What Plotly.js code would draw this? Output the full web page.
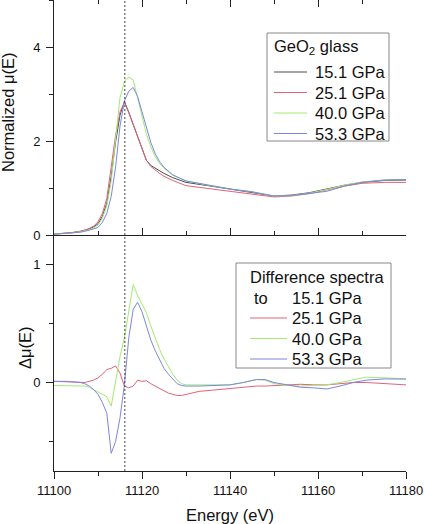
<!DOCTYPE html>
<html>
<head>
<meta charset="utf-8">
<script src="https://cdn.plot.ly/plotly-3.0.1.min.js"></script>
<style>html,body{margin:0;padding:0;background:#fff;}#chart{width:425px;height:524px;}</style>
</head>
<body>
<div id="chart"></div>
<script>
// ---- data: top panel (normalized mu(E)) ----
const energyTop = [11100,11102,11104,11106,11107,11108,11109,11110,11111,11112,11113,11114,11115,11116,11117,11118,11119,11120,11121,11122,11123,11124,11125,11127,11130,11135,11140,11145,11150,11154,11158,11162,11166,11170,11175,11180];
const mu151 = [0.02,0.03,0.05,0.08,0.10,0.13,0.17,0.24,0.40,0.68,1.25,1.98,2.55,2.84,2.61,2.36,2.10,1.85,1.59,1.48,1.42,1.37,1.31,1.22,1.12,1.05,0.98,0.90,0.83,0.85,0.90,0.98,1.06,1.12,1.16,1.17];
const mu251 = [0.02,0.03,0.05,0.08,0.10,0.14,0.19,0.28,0.46,0.78,1.40,2.12,2.62,2.82,2.60,2.35,2.10,1.85,1.59,1.46,1.38,1.31,1.25,1.16,1.05,0.99,0.94,0.87,0.81,0.83,0.88,0.96,1.04,1.10,1.12,1.12];
const mu400 = [0.02,0.03,0.04,0.07,0.09,0.11,0.15,0.21,0.36,0.62,1.15,2.02,2.92,3.27,3.36,3.30,2.90,2.48,2.15,1.88,1.67,1.52,1.42,1.27,1.15,1.06,0.98,0.92,0.83,0.84,0.89,0.97,1.06,1.13,1.17,1.18];
const mu533 = [0.02,0.03,0.04,0.06,0.08,0.10,0.13,0.16,0.27,0.46,0.82,1.45,2.32,2.85,3.06,3.14,2.95,2.62,2.27,1.97,1.73,1.56,1.44,1.28,1.15,1.06,0.98,0.92,0.83,0.84,0.88,0.93,1.04,1.12,1.17,1.18];

// ---- data: bottom panel (difference spectra to 15.1 GPa) ----
const energyDiff = [11100,11103,11106,11107,11108,11109,11110,11111,11112,11113,11114,11115,11116,11117,11118,11119,11120,11121,11122,11123,11124,11125,11126,11127,11128,11129,11130,11133,11136,11140,11143,11146,11148,11150,11153,11156,11159,11162,11165,11168,11171,11175,11180];
const d251 = [0.01,0.005,0.0,0.0,0.01,0.02,0.04,0.07,0.11,0.12,0.14,0.08,-0.03,-0.045,-0.03,0.02,0.01,0.015,-0.01,-0.03,-0.05,-0.07,-0.09,-0.10,-0.11,-0.11,-0.10,-0.075,-0.065,-0.05,-0.04,-0.03,-0.03,-0.025,-0.02,-0.015,-0.02,-0.02,-0.01,0.0,0.0,-0.01,-0.02];
const d400 = [-0.025,-0.025,-0.025,-0.03,-0.04,-0.06,-0.08,-0.10,-0.12,-0.20,0.01,0.22,0.38,0.60,0.83,0.74,0.66,0.59,0.48,0.38,0.28,0.20,0.13,0.07,0.02,-0.01,-0.02,-0.02,-0.02,-0.02,0.0,0.025,0.02,-0.01,-0.025,-0.03,-0.025,-0.02,0.0,0.025,0.045,0.04,0.03];
const d533 = [0.01,0.01,0.0,-0.01,-0.03,-0.06,-0.10,-0.17,-0.26,-0.60,-0.50,-0.30,-0.02,0.38,0.62,0.68,0.60,0.47,0.36,0.27,0.19,0.12,0.07,0.03,-0.01,-0.025,-0.03,-0.03,-0.025,-0.02,0.0,0.025,0.025,0.0,-0.02,-0.04,-0.045,-0.055,-0.03,0.0,0.02,0.03,0.03];

const pressureLabels = ['15.1 GPa','25.1 GPa','40.0 GPa','53.3 GPa'];
const topLegendTitle = 'GeO<sub>2</sub> glass';
const diffLegendTitle = 'Difference spectra';
const diffLegendRef = 'to';
const topYTitle = 'Normalized μ(E)';
const botYTitle = 'Δμ(E)';
const xTitle = 'Energy (eV)';
const edgeEnergy = 11116.1;

const cBlack = '#4d4d4d', cRed = '#e2627a', cGreen = '#a2ea72', cBlue = '#7b86e2';
const topColors = [cBlack, cRed, cGreen, cBlue];
const lw = 1;

const traces = [
  {x: energyTop, y: mu151, name: pressureLabels[0], xaxis:'x2', yaxis:'y', mode:'lines', line:{color:cBlack, width:lw}},
  {x: energyTop, y: mu251, name: pressureLabels[1], xaxis:'x2', yaxis:'y', mode:'lines', line:{color:cRed, width:lw}},
  {x: energyTop, y: mu400, name: pressureLabels[2], xaxis:'x2', yaxis:'y', mode:'lines', line:{color:cGreen, width:lw}},
  {x: energyTop, y: mu533, name: pressureLabels[3], xaxis:'x2', yaxis:'y', mode:'lines', line:{color:cBlue, width:lw}},
  {x: energyDiff, y: d251, name: pressureLabels[1], xaxis:'x', yaxis:'y2', mode:'lines', line:{color:cRed, width:lw}},
  {x: energyDiff, y: d400, name: pressureLabels[2], xaxis:'x', yaxis:'y2', mode:'lines', line:{color:cGreen, width:lw}},
  {x: energyDiff, y: d533, name: pressureLabels[3], xaxis:'x', yaxis:'y2', mode:'lines', line:{color:cBlue, width:lw}}
];

// ---- geometry helpers (pixel -> paper) ----
const W = 425, H = 524, ML = 54, MR = 19, MT = 0, MB = 53;
const PW = W - ML - MR, PH = H - MT - MB;
const px = v => (v - ML) / PW;
const py = v => 1 - (v - MT) / PH;

const axCol = '#222';
const split = 0.501;
const common = {showgrid:false, zeroline:false, linecolor:axCol, linewidth:1, tickcolor:axCol, tickwidth:1, tickfont:{size:13, color:'#111'}};
const legFont = {size:16.5, color:'#111'};

const shapes = [{type:'line', xref:'x', yref:'paper', x0:edgeEnergy, x1:edgeEnergy, y0:0, y1:1,
    line:{color:'#444', width:1, dash:'2px,2px'}}];
const annotations = [];

function legendBox(x0, y0, x1, y1) {
  shapes.push({type:'rect', xref:'paper', yref:'paper', x0:px(x0), x1:px(x1), y0:py(y1), y1:py(y0),
    fillcolor:'#fff', line:{color:'#888', width:1}});
}
function legText(text, x, y) {
  annotations.push({xref:'paper', yref:'paper', x:px(x), y:py(y), xanchor:'left', yanchor:'middle',
    text:text, showarrow:false, font:legFont, borderpad:0});
}
function legEntry(color, sx0, sx1, tx, y, label) {
  shapes.push({type:'line', xref:'paper', yref:'paper', x0:px(sx0), x1:px(sx1), y0:py(y), y1:py(y),
    line:{color:color, width:1}});
  legText(label, tx, y);
}

// top legend
legendBox(267, 33, 389, 141);
legText(topLegendTitle, 273, 47);
const topRows = [72, 92.5, 113, 133.5];
for (let i = 0; i < 4; i++) legEntry(topColors[i], 274, 307, 314, topRows[i], pressureLabels[i]);

// bottom legend
legendBox(236, 263, 391, 368);
legText(diffLegendTitle, 249, 277);
legText(diffLegendRef, 253, 297.5);
legText(pressureLabels[0], 291, 297.5);
const botRows = [318, 338.5, 359];
for (let i = 1; i < 4; i++) legEntry(topColors[i], 250, 287, 291, botRows[i-1], pressureLabels[i]);

// y-axis titles
annotations.push({xref:'paper', yref:'paper', x:px(8), y:py(112), xanchor:'center', yanchor:'middle',
  text:topYTitle, textangle:-90, showarrow:false, font:{size:16.5, color:'#111'}, borderpad:0});
annotations.push({xref:'paper', yref:'paper', x:px(25), y:py(348), xanchor:'center', yanchor:'middle',
  text:botYTitle, textangle:-90, showarrow:false, font:{size:16.5, color:'#111'}, borderpad:0});

const layout = {
  width:W, height:H,
  margin:{l:ML, r:MR, t:MT, b:MB, pad:0},
  paper_bgcolor:'#fff', plot_bgcolor:'#fff',
  font:{family:'"Liberation Sans", Arial, sans-serif', color:'#111'},
  showlegend:false,
  xaxis: Object.assign({}, common, {domain:[0,1], anchor:'y2', range:[11100,11180], dtick:20, tick0:11100, tickformat:'d',
    ticks:'outside', ticklen:7, minor:{dtick:10, ticklen:4, ticks:'outside', tickcolor:axCol},
    showline:true, title:{text:xTitle, font:{size:16.5}, standoff:12}}),
  xaxis2: Object.assign({}, common, {domain:[0,1], anchor:'y', range:[11100,11180], dtick:20, tick0:11100,
    ticks:'inside', ticklen:7, minor:{dtick:10, ticklen:4, ticks:'inside', tickcolor:axCol},
    mirror:'ticks', showline:true, showticklabels:false}),
  xaxis3: Object.assign({}, common, {domain:[0,1], anchor:'y2', side:'top', range:[11100,11180], dtick:20, tick0:11100,
    ticks:'inside', ticklen:7, minor:{dtick:10, ticklen:4, ticks:'inside', tickcolor:axCol},
    showline:false, showticklabels:false}),
  yaxis: Object.assign({}, common, {domain:[split,1], anchor:'x2', range:[0,5], dtick:2, tick0:0, ticklabelstandoff:3,
    ticks:'outside', ticklen:7, minor:{dtick:1, ticklen:4, ticks:'outside', tickcolor:axCol},
    showline:true}),
  yaxis2: Object.assign({}, common, {domain:[0,split], anchor:'x', range:[-0.75,1.25], tickvals:[0,1], ticktext:['0','1'], ticklabelstandoff:3,
    ticks:'outside', ticklen:7, minor:{dtick:0.5, tick0:0, ticklen:4, ticks:'outside', tickcolor:axCol},
    showline:true}),
  yaxis3: Object.assign({}, common, {overlaying:'y', side:'right', anchor:'x2', range:[0,5], dtick:1, tick0:0,
    ticks:'inside', ticklen:7, showline:true, showticklabels:false}),
  yaxis4: Object.assign({}, common, {overlaying:'y2', side:'right', anchor:'x', range:[-0.75,1.25], tickvals:[0,1],
    ticks:'inside', ticklen:7, minor:{dtick:0.5, tick0:0, ticklen:4, ticks:'inside', tickcolor:axCol},
    showline:true, showticklabels:false}),
  shapes: shapes,
  annotations: annotations
};

Plotly.newPlot('chart', traces, layout, {displayModeBar:false, staticPlot:true});
</script>
</body>
</html>
